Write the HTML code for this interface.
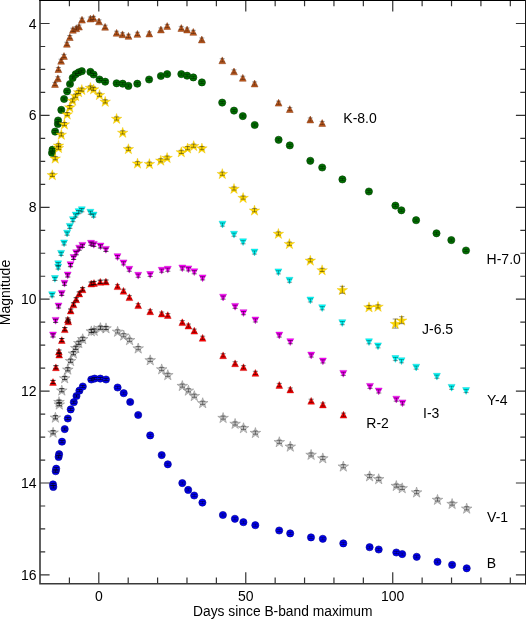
<!DOCTYPE html>
<html><head><meta charset="utf-8"><style>
html,body{margin:0;padding:0;background:#fff;}
body{width:526px;height:619px;overflow:hidden;}
svg{display:block;will-change:transform;}
text{font-family:"Liberation Sans",sans-serif;font-size:14px;fill:#000;}
</style></head><body>
<svg width="526" height="619" viewBox="0 0 526 619">
<rect width="526" height="619" fill="#fff"/>
<path fill="#c05a1e" stroke="#8a3c12" stroke-width="0.5" stroke-linejoin="miter" d="M55 80.6L58.4 87.4L51.6 87.4ZM57.9 74.9L61.3 81.7L54.5 81.7ZM58.4 65.7L61.8 72.5L55 72.5ZM61.1 57.4L64.5 64.2L57.7 64.2ZM64 52.6L67.4 59.4L60.6 59.4ZM66.9 40.4L70.3 47.2L63.5 47.2ZM69.8 33.7L73.2 40.5L66.4 40.5ZM72.9 26.4L76.3 33.2L69.5 33.2ZM76.2 24.9L79.6 31.7L72.8 31.7ZM79 23.2L82.4 30L75.6 30ZM82 16.3L85.4 23.1L78.6 23.1ZM90.4 15.2L93.8 22L87 22ZM93.5 14.6L96.9 21.4L90.1 21.4ZM99 18L102.4 24.8L95.6 24.8ZM105.1 23.4L108.5 30.2L101.7 30.2ZM116.6 29.4L120 36.2L113.2 36.2ZM122.5 30.9L125.9 37.7L119.1 37.7ZM128.5 32.5L131.9 39.3L125.1 39.3ZM137.4 30.5L140.8 37.3L134 37.3ZM149.3 30.1L152.7 36.9L145.9 36.9ZM160.9 26.1L164.3 32.9L157.5 32.9ZM167.2 22.6L170.6 29.4L163.8 29.4ZM181.3 24.6L184.7 31.4L177.9 31.4ZM187.1 26.1L190.5 32.9L183.7 32.9ZM193.3 28.5L196.7 35.3L189.9 35.3ZM201.8 36.1L205.2 42.9L198.4 42.9ZM222.3 56.9L225.7 63.7L218.9 63.7ZM234 68L237.4 74.8L230.6 74.8ZM242.8 74.4L246.2 81.2L239.4 81.2ZM254.6 80.1L258 86.9L251.2 86.9ZM278.6 99.3L282 106.1L275.2 106.1ZM289.8 105.7L293.2 112.5L286.4 112.5ZM310.3 116.1L313.7 122.9L306.9 122.9ZM322.2 119.6L325.6 126.4L318.8 126.4Z"/>
<path fill="none" stroke="#000" stroke-opacity="0.45" stroke-width="0.8" d="M55 82.4V85.6M52.4 82.4H57.6M52.4 85.6H57.6M57.9 76.7V79.9M55.3 76.7H60.5M55.3 79.9H60.5M58.4 67.5V70.7M55.8 67.5H61M55.8 70.7H61M61.1 59.2V62.4M58.5 59.2H63.7M58.5 62.4H63.7M64 54.4V57.6M61.4 54.4H66.6M61.4 57.6H66.6M66.9 42.2V45.4M64.3 42.2H69.5M64.3 45.4H69.5M69.8 35.5V38.7M67.2 35.5H72.4M67.2 38.7H72.4M72.9 28.2V31.4M70.3 28.2H75.5M70.3 31.4H75.5M76.2 26.7V29.9M73.6 26.7H78.8M73.6 29.9H78.8M79 25V28.2M76.4 25H81.6M76.4 28.2H81.6M82 18.1V21.3M79.4 18.1H84.6M79.4 21.3H84.6M90.4 17V20.2M87.8 17H93M87.8 20.2H93M93.5 16.4V19.6M90.9 16.4H96.1M90.9 19.6H96.1M99 19.8V23M96.4 19.8H101.6M96.4 23H101.6M105.1 25.2V28.4M102.5 25.2H107.7M102.5 28.4H107.7"/>
<path fill="none" stroke="#000" stroke-opacity="0.4" stroke-width="0.8" d="M116.6 31.2V34.4M114 31.2H119.2M114 34.4H119.2M122.5 32.7V35.9M119.9 32.7H125.1M119.9 35.9H125.1M128.5 34.3V37.5M125.9 34.3H131.1M125.9 37.5H131.1M137.4 32.3V35.5M134.8 32.3H140M134.8 35.5H140M149.3 31.9V35.1M146.7 31.9H151.9M146.7 35.1H151.9M160.9 27.9V31.1M158.3 27.9H163.5M158.3 31.1H163.5M167.2 24.4V27.6M164.6 24.4H169.8M164.6 27.6H169.8M181.3 26.4V29.6M178.7 26.4H183.9M178.7 29.6H183.9M187.1 27.9V31.1M184.5 27.9H189.7M184.5 31.1H189.7M193.3 30.3V33.5M190.7 30.3H195.9M190.7 33.5H195.9M201.8 37.9V41.1M199.2 37.9H204.4M199.2 41.1H204.4M222.3 58.7V61.9M219.7 58.7H224.9M219.7 61.9H224.9M234 69.8V73M231.4 69.8H236.6M231.4 73H236.6M242.8 76.2V79.4M240.2 76.2H245.4M240.2 79.4H245.4M254.6 81.9V85.1M252 81.9H257.2M252 85.1H257.2M278.6 101.1V104.3M276 101.1H281.2M276 104.3H281.2M289.8 107.5V110.7M287.2 107.5H292.4M287.2 110.7H292.4M310.3 117.9V121.1M307.7 117.9H312.9M307.7 121.1H312.9M322.2 121.4V124.6M319.6 121.4H324.8M319.6 124.6H324.8"/>
<g fill="#007200" stroke="#003c00" stroke-width="0.6"><circle cx="52" cy="152.9" r="3.6"/><circle cx="52.5" cy="149.7" r="3.6"/><circle cx="55.1" cy="131.6" r="3.6"/><circle cx="57.9" cy="123.9" r="3.6"/><circle cx="58.1" cy="120.5" r="3.6"/><circle cx="61.3" cy="109.9" r="3.6"/><circle cx="64.1" cy="99" r="3.6"/><circle cx="67.1" cy="91.3" r="3.6"/><circle cx="70" cy="84" r="3.6"/><circle cx="72.7" cy="77.9" r="3.6"/><circle cx="75.7" cy="74.2" r="3.6"/><circle cx="78.7" cy="72.3" r="3.6"/><circle cx="81.8" cy="71.2" r="3.6"/><circle cx="90.4" cy="71.9" r="3.6"/><circle cx="93.6" cy="74.5" r="3.6"/><circle cx="99.5" cy="79.5" r="3.6"/><circle cx="105.2" cy="81.7" r="3.6"/><circle cx="116.6" cy="83.3" r="3.6"/><circle cx="122.7" cy="83.7" r="3.6"/><circle cx="128.4" cy="85.9" r="3.6"/><circle cx="137.3" cy="83.7" r="3.6"/><circle cx="149.1" cy="79.5" r="3.6"/><circle cx="160.9" cy="76" r="3.6"/><circle cx="167.2" cy="74.1" r="3.6"/><circle cx="181.3" cy="74.1" r="3.6"/><circle cx="187.1" cy="75.7" r="3.6"/><circle cx="193.3" cy="77.4" r="3.6"/><circle cx="201.9" cy="82.4" r="3.6"/><circle cx="222.2" cy="102.6" r="3.6"/><circle cx="234" cy="110.6" r="3.6"/><circle cx="242.8" cy="116.1" r="3.6"/><circle cx="254.7" cy="125" r="3.6"/><circle cx="278.6" cy="139.8" r="3.6"/><circle cx="289.8" cy="145.4" r="3.6"/><circle cx="310.3" cy="160.8" r="3.6"/><circle cx="322.2" cy="167.5" r="3.6"/><circle cx="342.4" cy="179.4" r="3.6"/><circle cx="368.9" cy="191.5" r="3.6"/><circle cx="395.4" cy="205.6" r="3.6"/><circle cx="401.4" cy="210.3" r="3.6"/><circle cx="416.1" cy="220.2" r="3.6"/><circle cx="436.5" cy="233.3" r="3.6"/><circle cx="451.3" cy="240.1" r="3.6"/><circle cx="466" cy="250.5" r="3.6"/></g>
<path fill="none" stroke="#000" stroke-opacity="0.6" stroke-width="0.8" d="M52 151.8V154M49.4 151.8H54.6M49.4 154H54.6M52.5 148.6V150.8M49.9 148.6H55.1M49.9 150.8H55.1M55.1 130.5V132.7M52.5 130.5H57.7M52.5 132.7H57.7M57.9 122.8V125M55.3 122.8H60.5M55.3 125H60.5M58.1 119.4V121.6M55.5 119.4H60.7M55.5 121.6H60.7M61.3 108.8V111M58.7 108.8H63.9M58.7 111H63.9M64.1 97.9V100.1M61.5 97.9H66.7M61.5 100.1H66.7M67.1 90.2V92.4M64.5 90.2H69.7M64.5 92.4H69.7M70 82.9V85.1M67.4 82.9H72.6M67.4 85.1H72.6M72.7 76.8V79M70.1 76.8H75.3M70.1 79H75.3M75.7 73.1V75.3M73.1 73.1H78.3M73.1 75.3H78.3M78.7 71.2V73.4M76.1 71.2H81.3M76.1 73.4H81.3M81.8 70.1V72.3M79.2 70.1H84.4M79.2 72.3H84.4M90.4 70.8V73M87.8 70.8H93M87.8 73H93M93.6 73.4V75.6M91 73.4H96.2M91 75.6H96.2M99.5 78.4V80.6M96.9 78.4H102.1M96.9 80.6H102.1M105.2 80.6V82.8M102.6 80.6H107.8M102.6 82.8H107.8"/>
<path fill="none" stroke="#000" stroke-opacity="0.45" stroke-width="0.8" d="M116.6 82.2V84.4M114 82.2H119.2M114 84.4H119.2M122.7 82.6V84.8M120.1 82.6H125.3M120.1 84.8H125.3M128.4 84.8V87M125.8 84.8H131M125.8 87H131M137.3 82.6V84.8M134.7 82.6H139.9M134.7 84.8H139.9M149.1 78.4V80.6M146.5 78.4H151.7M146.5 80.6H151.7M160.9 74.9V77.1M158.3 74.9H163.5M158.3 77.1H163.5M167.2 73V75.2M164.6 73H169.8M164.6 75.2H169.8M181.3 73V75.2M178.7 73H183.9M178.7 75.2H183.9M187.1 74.6V76.8M184.5 74.6H189.7M184.5 76.8H189.7M193.3 76.3V78.5M190.7 76.3H195.9M190.7 78.5H195.9M201.9 81.3V83.5M199.3 81.3H204.5M199.3 83.5H204.5M222.2 101.5V103.7M219.6 101.5H224.8M219.6 103.7H224.8M234 109.5V111.7M231.4 109.5H236.6M231.4 111.7H236.6M242.8 115V117.2M240.2 115H245.4M240.2 117.2H245.4M254.7 123.9V126.1M252.1 123.9H257.3M252.1 126.1H257.3M278.6 138.7V140.9M276 138.7H281.2M276 140.9H281.2M289.8 144.3V146.5M287.2 144.3H292.4M287.2 146.5H292.4M310.3 159.7V161.9M307.7 159.7H312.9M307.7 161.9H312.9M322.2 166.4V168.6M319.6 166.4H324.8M319.6 168.6H324.8M342.4 178.3V180.5M339.8 178.3H345M339.8 180.5H345M368.9 190.4V192.6M366.3 190.4H371.5M366.3 192.6H371.5M395.4 204.5V206.7M392.8 204.5H398M392.8 206.7H398M401.4 209.2V211.4M398.8 209.2H404M398.8 211.4H404M416.1 219.1V221.3M413.5 219.1H418.7M413.5 221.3H418.7M436.5 232.2V234.4M433.9 232.2H439.1M433.9 234.4H439.1M451.3 239V241.2M448.7 239H453.9M448.7 241.2H453.9M466 249.4V251.6M463.4 249.4H468.6M463.4 251.6H468.6"/>
<path fill="#ffd800" stroke="#e6bc00" stroke-width="0.35" stroke-linejoin="miter" d="M52.3 169.7L53.56 173.56L57.63 173.57L54.34 175.96L55.59 179.83L52.3 177.45L49.01 179.83L50.26 175.96L46.97 173.57L51.04 173.56ZM55.2 153.1L56.46 156.96L60.53 156.97L57.24 159.36L58.49 163.23L55.2 160.85L51.91 163.23L53.16 159.36L49.87 156.97L53.94 156.96ZM58.5 140.2L59.76 144.06L63.83 144.07L60.54 146.46L61.79 150.33L58.5 147.95L55.21 150.33L56.46 146.46L53.17 144.07L57.24 144.06ZM58.5 142.6L59.76 146.46L63.83 146.47L60.54 148.86L61.79 152.73L58.5 150.35L55.21 152.73L56.46 148.86L53.17 146.47L57.24 146.46ZM61.3 129.3L62.56 133.16L66.63 133.17L63.34 135.56L64.59 139.43L61.3 137.05L58.01 139.43L59.26 135.56L55.97 133.17L60.04 133.16ZM64.4 119L65.66 122.86L69.73 122.87L66.44 125.26L67.69 129.13L64.4 126.75L61.11 129.13L62.36 125.26L59.07 122.87L63.14 122.86ZM67.2 109L68.46 112.86L72.53 112.87L69.24 115.26L70.49 119.13L67.2 116.75L63.91 119.13L65.16 115.26L61.87 112.87L65.94 112.86ZM69.8 102L71.06 105.86L75.13 105.87L71.84 108.26L73.09 112.13L69.8 109.75L66.51 112.13L67.76 108.26L64.47 105.87L68.54 105.86ZM72.7 95.3L73.96 99.16L78.03 99.17L74.74 101.56L75.99 105.43L72.7 103.05L69.41 105.43L70.66 101.56L67.37 99.17L71.44 99.16ZM75.6 90.6L76.86 94.46L80.93 94.47L77.64 96.86L78.89 100.73L75.6 98.35L72.31 100.73L73.56 96.86L70.27 94.47L74.34 94.46ZM78.6 86.8L79.86 90.66L83.93 90.67L80.64 93.06L81.89 96.93L78.6 94.55L75.31 96.93L76.56 93.06L73.27 90.67L77.34 90.66ZM81.8 84.5L83.06 88.36L87.13 88.37L83.84 90.76L85.09 94.63L81.8 92.25L78.51 94.63L79.76 90.76L76.47 88.37L80.54 88.36ZM90.4 82.4L91.66 86.26L95.73 86.27L92.44 88.66L93.69 92.53L90.4 90.15L87.11 92.53L88.36 88.66L85.07 86.27L89.14 86.26ZM93.6 83.9L94.86 87.76L98.93 87.77L95.64 90.16L96.89 94.03L93.6 91.65L90.31 94.03L91.56 90.16L88.27 87.77L92.34 87.76ZM99.5 89.6L100.76 93.46L104.83 93.47L101.54 95.86L102.79 99.73L99.5 97.35L96.21 99.73L97.46 95.86L94.17 93.47L98.24 93.46ZM105.2 96.3L106.46 100.16L110.53 100.17L107.24 102.56L108.49 106.43L105.2 104.05L101.91 106.43L103.16 102.56L99.87 100.17L103.94 100.16ZM116.6 113.4L117.86 117.26L121.93 117.27L118.64 119.66L119.89 123.53L116.6 121.15L113.31 123.53L114.56 119.66L111.27 117.27L115.34 117.26ZM122.7 127.3L123.96 131.16L128.03 131.17L124.74 133.56L125.99 137.43L122.7 135.05L119.41 137.43L120.66 133.56L117.37 131.17L121.44 131.16ZM128.4 143.7L129.66 147.56L133.73 147.57L130.44 149.96L131.69 153.83L128.4 151.45L125.11 153.83L126.36 149.96L123.07 147.57L127.14 147.56ZM137.5 158.1L138.76 161.96L142.83 161.97L139.54 164.36L140.79 168.23L137.5 165.85L134.21 168.23L135.46 164.36L132.17 161.97L136.24 161.96ZM149.4 158.6L150.66 162.46L154.73 162.47L151.44 164.86L152.69 168.73L149.4 166.35L146.11 168.73L147.36 164.86L144.07 162.47L148.14 162.46ZM160.8 155.2L162.06 159.06L166.13 159.07L162.84 161.46L164.09 165.33L160.8 162.95L157.51 165.33L158.76 161.46L155.47 159.07L159.54 159.06ZM167.1 152.5L168.36 156.36L172.43 156.37L169.14 158.76L170.39 162.63L167.1 160.25L163.81 162.63L165.06 158.76L161.77 156.37L165.84 156.36ZM181.3 146.8L182.56 150.66L186.63 150.67L183.34 153.06L184.59 156.93L181.3 154.55L178.01 156.93L179.26 153.06L175.97 150.67L180.04 150.66ZM187.6 143L188.86 146.86L192.93 146.87L189.64 149.26L190.89 153.13L187.6 150.75L184.31 153.13L185.56 149.26L182.27 146.87L186.34 146.86ZM193.7 140.6L194.96 144.46L199.03 144.47L195.74 146.86L196.99 150.73L193.7 148.35L190.41 150.73L191.66 146.86L188.37 144.47L192.44 144.46ZM201.9 143L203.16 146.86L207.23 146.87L203.94 149.26L205.19 153.13L201.9 150.75L198.61 153.13L199.86 149.26L196.57 146.87L200.64 146.86ZM222.3 168.6L223.56 172.46L227.63 172.47L224.34 174.86L225.59 178.73L222.3 176.35L219.01 178.73L220.26 174.86L216.97 172.47L221.04 172.46ZM234 183.4L235.26 187.26L239.33 187.27L236.04 189.66L237.29 193.53L234 191.15L230.71 193.53L231.96 189.66L228.67 187.27L232.74 187.26ZM243.1 192.5L244.36 196.36L248.43 196.37L245.14 198.76L246.39 202.63L243.1 200.25L239.81 202.63L241.06 198.76L237.77 196.37L241.84 196.36ZM254.5 205.1L255.76 208.96L259.83 208.97L256.54 211.36L257.79 215.23L254.5 212.85L251.21 215.23L252.46 211.36L249.17 208.97L253.24 208.96ZM278.4 228.4L279.66 232.26L283.73 232.27L280.44 234.66L281.69 238.53L278.4 236.15L275.11 238.53L276.36 234.66L273.07 232.27L277.14 232.26ZM289.4 238.6L290.66 242.46L294.73 242.47L291.44 244.86L292.69 248.73L289.4 246.35L286.11 248.73L287.36 244.86L284.07 242.47L288.14 242.46ZM310.3 255.2L311.56 259.06L315.63 259.07L312.34 261.46L313.59 265.33L310.3 262.95L307.01 265.33L308.26 261.46L304.97 259.07L309.04 259.06ZM322.1 264.8L323.36 268.66L327.43 268.67L324.14 271.06L325.39 274.93L322.1 272.55L318.81 274.93L320.06 271.06L316.77 268.67L320.84 268.66ZM342.3 284.7L343.56 288.56L347.63 288.57L344.34 290.96L345.59 294.83L342.3 292.45L339.01 294.83L340.26 290.96L336.97 288.57L341.04 288.56ZM369 301.9L370.26 305.76L374.33 305.77L371.04 308.16L372.29 312.03L369 309.65L365.71 312.03L366.96 308.16L363.67 305.77L367.74 305.76ZM378 301.3L379.26 305.16L383.33 305.17L380.04 307.56L381.29 311.43L378 309.05L374.71 311.43L375.96 307.56L372.67 305.17L376.74 305.16ZM395.3 318.5L396.56 322.36L400.63 322.37L397.34 324.76L398.59 328.63L395.3 326.25L392.01 328.63L393.26 324.76L389.97 322.37L394.04 322.36ZM401.7 315.1L402.96 318.96L407.03 318.97L403.74 321.36L404.99 325.23L401.7 322.85L398.41 325.23L399.66 321.36L396.37 318.97L400.44 318.96Z"/>
<path fill="none" stroke="#000" stroke-opacity="0.6" stroke-width="0.8" d="M52.3 173.2V176.4M49.7 173.2H54.9M49.7 176.4H54.9M55.2 156.6V159.8M52.6 156.6H57.8M52.6 159.8H57.8M58.5 143.7V146.9M55.9 143.7H61.1M55.9 146.9H61.1M58.5 146.1V149.3M55.9 146.1H61.1M55.9 149.3H61.1M61.3 132.8V136M58.7 132.8H63.9M58.7 136H63.9M64.4 122.5V125.7M61.8 122.5H67M61.8 125.7H67M67.2 112.5V115.7M64.6 112.5H69.8M64.6 115.7H69.8M69.8 105.5V108.7M67.2 105.5H72.4M67.2 108.7H72.4M72.7 98.8V102M70.1 98.8H75.3M70.1 102H75.3M75.6 94.1V97.3M73 94.1H78.2M73 97.3H78.2M78.6 90.3V93.5M76 90.3H81.2M76 93.5H81.2M81.8 88V91.2M79.2 88H84.4M79.2 91.2H84.4M90.4 85.9V89.1M87.8 85.9H93M87.8 89.1H93M93.6 87.4V90.6M91 87.4H96.2M91 90.6H96.2M99.5 93.1V96.3M96.9 93.1H102.1M96.9 96.3H102.1M105.2 99.8V103M102.6 99.8H107.8M102.6 103H107.8"/>
<path fill="none" stroke="#000" stroke-opacity="0.5" stroke-width="0.8" d="M116.6 116.9V120.1M114 116.9H119.2M114 120.1H119.2M122.7 130.8V134M120.1 130.8H125.3M120.1 134H125.3M128.4 147.2V150.4M125.8 147.2H131M125.8 150.4H131M137.5 161.6V164.8M134.9 161.6H140.1M134.9 164.8H140.1M149.4 162.1V165.3M146.8 162.1H152M146.8 165.3H152M160.8 158.7V161.9M158.2 158.7H163.4M158.2 161.9H163.4M167.1 156V159.2M164.5 156H169.7M164.5 159.2H169.7M181.3 150.3V153.5M178.7 150.3H183.9M178.7 153.5H183.9M187.6 146.5V149.7M185 146.5H190.2M185 149.7H190.2M193.7 144.1V147.3M191.1 144.1H196.3M191.1 147.3H196.3M201.9 146.5V149.7M199.3 146.5H204.5M199.3 149.7H204.5M222.3 172.1V175.3M219.7 172.1H224.9M219.7 175.3H224.9M234 186.9V190.1M231.4 186.9H236.6M231.4 190.1H236.6M243.1 196V199.2M240.5 196H245.7M240.5 199.2H245.7M254.5 208.6V211.8M251.9 208.6H257.1M251.9 211.8H257.1M278.4 231.9V235.1M275.8 231.9H281M275.8 235.1H281M289.4 242.1V245.3M286.8 242.1H292M286.8 245.3H292M310.3 258.7V261.9M307.7 258.7H312.9M307.7 261.9H312.9M322.1 268.3V271.5M319.5 268.3H324.7M319.5 271.5H324.7M342.3 286.3V293.3M339.7 286.3H344.9M339.7 293.3H344.9M369 305.4V308.6M366.4 305.4H371.6M366.4 308.6H371.6M378 304.8V308M375.4 304.8H380.6M375.4 308H380.6M395.3 319V328.2M392.7 319H397.9M392.7 328.2H397.9M401.7 316.7V323.7M399.1 316.7H404.3M399.1 323.7H404.3"/>
<path fill="#00ffff" stroke="#00c4c4" stroke-width="0.4" stroke-linejoin="miter" d="M48.6 291.8L55.6 291.8L52.1 298.6ZM51.4 275.5L58.4 275.5L54.9 282.3ZM54.7 260.8L61.7 260.8L58.2 267.6ZM54.7 264.1L61.7 264.1L58.2 270.9ZM57.6 250.4L64.6 250.4L61.1 257.2ZM60.6 240L67.6 240L64.1 246.8ZM63.6 230.2L70.6 230.2L67.1 237ZM66.3 223.4L73.3 223.4L69.8 230.2ZM69.4 216.7L76.4 216.7L72.9 223.5ZM72.2 212.1L79.2 212.1L75.7 218.9ZM75.1 208.7L82.1 208.7L78.6 215.5ZM78.3 206.8L85.3 206.8L81.8 213.6ZM86.9 209.3L93.9 209.3L90.4 216.1ZM90.1 212.1L97.1 212.1L93.6 218.9ZM219 221.2L226 221.2L222.5 228ZM230.5 231.3L237.5 231.3L234 238.1ZM239.6 238.8L246.6 238.8L243.1 245.6ZM251 249.1L258 249.1L254.5 255.9ZM274.9 268.9L281.9 268.9L278.4 275.7ZM286 277.3L293 277.3L289.5 284.1ZM306.9 297L313.9 297L310.4 303.8ZM318.7 304.8L325.7 304.8L322.2 311.6ZM338.8 319.7L345.8 319.7L342.3 326.5ZM365.5 338.8L372.5 338.8L369 345.6ZM374.5 342.9L381.5 342.9L378 349.7ZM391.9 355.6L398.9 355.6L395.4 362.4ZM398 357.8L405 357.8L401.5 364.6ZM412.7 364.2L419.7 364.2L416.2 371ZM433.4 373.3L440.4 373.3L436.9 380.1ZM448.1 384.4L455.1 384.4L451.6 391.2ZM462.6 387.6L469.6 387.6L466.1 394.4Z"/>
<path fill="none" stroke="#000" stroke-opacity="0.6" stroke-width="0.8" d="M52.1 293.6V296.8M49.5 293.6H54.7M49.5 296.8H54.7M54.9 277.3V280.5M52.3 277.3H57.5M52.3 280.5H57.5M58.2 262.6V265.8M55.6 262.6H60.8M55.6 265.8H60.8M58.2 265.9V269.1M55.6 265.9H60.8M55.6 269.1H60.8M61.1 252.2V255.4M58.5 252.2H63.7M58.5 255.4H63.7M64.1 241.8V245M61.5 241.8H66.7M61.5 245H66.7M67.1 232V235.2M64.5 232H69.7M64.5 235.2H69.7M69.8 225.2V228.4M67.2 225.2H72.4M67.2 228.4H72.4M72.9 218.5V221.7M70.3 218.5H75.5M70.3 221.7H75.5M75.7 213.9V217.1M73.1 213.9H78.3M73.1 217.1H78.3M78.6 210.5V213.7M76 210.5H81.2M76 213.7H81.2M81.8 208.6V211.8M79.2 208.6H84.4M79.2 211.8H84.4M90.4 211.1V214.3M87.8 211.1H93M87.8 214.3H93M93.6 213.9V217.1M91 213.9H96.2M91 217.1H96.2"/>
<path fill="none" stroke="#000" stroke-opacity="0.45" stroke-width="0.8" d="M222.5 223V226.2M219.9 223H225.1M219.9 226.2H225.1M234 233.1V236.3M231.4 233.1H236.6M231.4 236.3H236.6M243.1 240.6V243.8M240.5 240.6H245.7M240.5 243.8H245.7M254.5 250.9V254.1M251.9 250.9H257.1M251.9 254.1H257.1M278.4 270.7V273.9M275.8 270.7H281M275.8 273.9H281M289.5 279.1V282.3M286.9 279.1H292.1M286.9 282.3H292.1M310.4 298.8V302M307.8 298.8H313M307.8 302H313M322.2 306.6V309.8M319.6 306.6H324.8M319.6 309.8H324.8M342.3 321.5V324.7M339.7 321.5H344.9M339.7 324.7H344.9M369 340.6V343.8M366.4 340.6H371.6M366.4 343.8H371.6M378 344.7V347.9M375.4 344.7H380.6M375.4 347.9H380.6M395.4 357.4V360.6M392.8 357.4H398M392.8 360.6H398M401.5 359.6V362.8M398.9 359.6H404.1M398.9 362.8H404.1M416.2 366V369.2M413.6 366H418.8M413.6 369.2H418.8M436.9 375.1V378.3M434.3 375.1H439.5M434.3 378.3H439.5M451.6 386.2V389.4M449 386.2H454.2M449 389.4H454.2M466.1 389.4V392.6M463.5 389.4H468.7M463.5 392.6H468.7"/>
<path fill="#ff00ff" stroke="#c000c0" stroke-width="0.4" stroke-linejoin="miter" d="M49.5 332L56.5 332L53 338.8ZM52.1 317.4L59.1 317.4L55.6 324.2ZM55 303L62 303L58.5 309.8ZM58.2 290.4L65.2 290.4L61.7 297.2ZM61 280.3L68 280.3L64.5 287.1ZM64.2 272L71.2 272L67.7 278.8ZM67 261.7L74 261.7L70.5 268.5ZM70.1 254.5L77.1 254.5L73.6 261.3ZM72.7 249.8L79.7 249.8L76.2 256.6ZM75.7 245.2L82.7 245.2L79.2 252ZM78.9 242.4L85.9 242.4L82.4 249.2ZM87.5 240.3L94.5 240.3L91 247.1ZM90.3 241.4L97.3 241.4L93.8 248.2ZM97 243L104 243L100.5 249.8ZM102.4 246.4L109.4 246.4L105.9 253.2ZM114 253.7L121 253.7L117.5 260.5ZM120 259.9L127 259.9L123.5 266.7ZM125.8 266.3L132.8 266.3L129.3 273.1ZM134.7 272.3L141.7 272.3L138.2 279.1ZM146.7 271.5L153.7 271.5L150.2 278.3ZM158.2 267.3L165.2 267.3L161.7 274.1ZM164.3 266.3L171.3 266.3L167.8 273.1ZM178.8 265L185.8 265L182.3 271.8ZM184.9 265.9L191.9 265.9L188.4 272.7ZM190.8 268.8L197.8 268.8L194.3 275.6ZM199.1 274.9L206.1 274.9L202.6 281.7ZM219.6 294.2L226.6 294.2L223.1 301ZM231.6 303.4L238.6 303.4L235.1 310.2ZM240 309.7L247 309.7L243.5 316.5ZM251.9 317L258.9 317L255.4 323.8ZM275.8 332.1L282.8 332.1L279.3 338.9ZM286.8 338.7L293.8 338.7L290.3 345.5ZM307.7 352.1L314.7 352.1L311.2 358.9ZM319.4 358L326.4 358L322.9 364.8ZM339.8 370.4L346.8 370.4L343.3 377.2ZM366.5 383.4L373.5 383.4L370 390.2ZM375.2 388L382.2 388L378.7 394.8ZM392.8 396.2L399.8 396.2L396.3 403ZM399 399.9L406 399.9L402.5 406.7Z"/>
<path fill="none" stroke="#000" stroke-opacity="0.85" stroke-width="0.8" d="M53 333.8V337M50.4 333.8H55.6M50.4 337H55.6M55.6 319.2V322.4M53 319.2H58.2M53 322.4H58.2M58.5 304.8V308M55.9 304.8H61.1M55.9 308H61.1M61.7 292.2V295.4M59.1 292.2H64.3M59.1 295.4H64.3M64.5 282.1V285.3M61.9 282.1H67.1M61.9 285.3H67.1M67.7 273.8V277M65.1 273.8H70.3M65.1 277H70.3M70.5 263.5V266.7M67.9 263.5H73.1M67.9 266.7H73.1M73.6 256.3V259.5M71 256.3H76.2M71 259.5H76.2M76.2 251.6V254.8M73.6 251.6H78.8M73.6 254.8H78.8M79.2 247V250.2M76.6 247H81.8M76.6 250.2H81.8M82.4 244.2V247.4M79.8 244.2H85M79.8 247.4H85M91 242.1V245.3M88.4 242.1H93.6M88.4 245.3H93.6M93.8 243.2V246.4M91.2 243.2H96.4M91.2 246.4H96.4M100.5 244.8V248M97.9 244.8H103.1M97.9 248H103.1M105.9 248.2V251.4M103.3 248.2H108.5M103.3 251.4H108.5"/>
<path fill="none" stroke="#000" stroke-opacity="0.6" stroke-width="0.8" d="M117.5 255.5V258.7M114.9 255.5H120.1M114.9 258.7H120.1M123.5 261.7V264.9M120.9 261.7H126.1M120.9 264.9H126.1M129.3 268.1V271.3M126.7 268.1H131.9M126.7 271.3H131.9M138.2 274.1V277.3M135.6 274.1H140.8M135.6 277.3H140.8M150.2 273.3V276.5M147.6 273.3H152.8M147.6 276.5H152.8M161.7 269.1V272.3M159.1 269.1H164.3M159.1 272.3H164.3M167.8 268.1V271.3M165.2 268.1H170.4M165.2 271.3H170.4M182.3 266.8V270M179.7 266.8H184.9M179.7 270H184.9M188.4 267.7V270.9M185.8 267.7H191M185.8 270.9H191M194.3 270.6V273.8M191.7 270.6H196.9M191.7 273.8H196.9M202.6 276.7V279.9M200 276.7H205.2M200 279.9H205.2M223.1 296V299.2M220.5 296H225.7M220.5 299.2H225.7M235.1 305.2V308.4M232.5 305.2H237.7M232.5 308.4H237.7M243.5 311.5V314.7M240.9 311.5H246.1M240.9 314.7H246.1M255.4 318.8V322M252.8 318.8H258M252.8 322H258M279.3 333.9V337.1M276.7 333.9H281.9M276.7 337.1H281.9M290.3 340.5V343.7M287.7 340.5H292.9M287.7 343.7H292.9M311.2 353.9V357.1M308.6 353.9H313.8M308.6 357.1H313.8M322.9 359.8V363M320.3 359.8H325.5M320.3 363H325.5M343.3 372.2V375.4M340.7 372.2H345.9M340.7 375.4H345.9M370 385.2V388.4M367.4 385.2H372.6M367.4 388.4H372.6M378.7 389.8V393M376.1 389.8H381.3M376.1 393H381.3M396.3 398V401.2M393.7 398H398.9M393.7 401.2H398.9M402.5 401.7V404.9M399.9 401.7H405.1M399.9 404.9H405.1"/>
<path fill="#ff0000" stroke="#c00000" stroke-width="0.4" stroke-linejoin="miter" d="M53 378.6L56.4 385.4L49.6 385.4ZM55.9 363.9L59.3 370.7L52.5 370.7ZM58.9 348.2L62.3 355L55.5 355ZM59.2 351.2L62.6 358L55.8 358ZM61.8 336.7L65.2 343.5L58.4 343.5ZM64.8 325.8L68.2 332.6L61.4 332.6ZM67.8 316.2L71.2 323L64.4 323ZM68.3 318L71.7 324.8L64.9 324.8ZM70.7 307.2L74.1 314L67.3 314ZM73.5 301L76.9 307.8L70.1 307.8ZM76.2 295.9L79.6 302.7L72.8 302.7ZM79.3 290.1L82.7 296.9L75.9 296.9ZM82.6 285.9L86 292.7L79.2 292.7ZM91.2 280.2L94.6 287L87.8 287ZM94 279.6L97.4 286.4L90.6 286.4ZM100.3 278.4L103.7 285.2L96.9 285.2ZM105.9 278.2L109.3 285L102.5 285ZM117.5 282.8L120.9 289.6L114.1 289.6ZM123.5 287.4L126.9 294.2L120.1 294.2ZM129.4 293.8L132.8 300.6L126 300.6ZM138.2 301.8L141.6 308.6L134.8 308.6ZM150.2 307.9L153.6 314.7L146.8 314.7ZM161.7 310.2L165.1 317L158.3 317ZM167.8 311.7L171.2 318.5L164.4 318.5ZM182.3 318.8L185.7 325.6L178.9 325.6ZM188.4 322.2L191.8 329L185 329ZM194.3 327.3L197.7 334.1L190.9 334.1ZM202.6 334.4L206 341.2L199.2 341.2ZM223.1 351.9L226.5 358.7L219.7 358.7ZM235.1 359.9L238.5 366.7L231.7 366.7ZM243.5 363.8L246.9 370.6L240.1 370.6ZM255.4 369.5L258.8 376.3L252 376.3ZM279.3 381.6L282.7 388.4L275.9 388.4ZM290.3 386.1L293.7 392.9L286.9 392.9ZM311.2 397.4L314.6 404.2L307.8 404.2ZM322.9 401.1L326.3 407.9L319.5 407.9ZM343.5 411.3L346.9 418.1L340.1 418.1Z"/>
<path fill="none" stroke="#000" stroke-opacity="0.95" stroke-width="0.8" d="M53 380.4V383.6M50.4 380.4H55.6M50.4 383.6H55.6M55.9 365.7V368.9M53.3 365.7H58.5M53.3 368.9H58.5M58.9 350V353.2M56.3 350H61.5M56.3 353.2H61.5M59.2 353V356.2M56.6 353H61.8M56.6 356.2H61.8M61.8 338.5V341.7M59.2 338.5H64.4M59.2 341.7H64.4M64.8 327.6V330.8M62.2 327.6H67.4M62.2 330.8H67.4M67.8 318V321.2M65.2 318H70.4M65.2 321.2H70.4M68.3 319.8V323M65.7 319.8H70.9M65.7 323H70.9M70.7 309V312.2M68.1 309H73.3M68.1 312.2H73.3M73.5 302.8V306M70.9 302.8H76.1M70.9 306H76.1M76.2 297.7V300.9M73.6 297.7H78.8M73.6 300.9H78.8M79.3 291.9V295.1M76.7 291.9H81.9M76.7 295.1H81.9M82.6 287.7V290.9M80 287.7H85.2M80 290.9H85.2M91.2 282V285.2M88.6 282H93.8M88.6 285.2H93.8M94 281.4V284.6M91.4 281.4H96.6M91.4 284.6H96.6M100.3 280.2V283.4M97.7 280.2H102.9M97.7 283.4H102.9M105.9 280V283.2M103.3 280H108.5M103.3 283.2H108.5"/>
<path fill="none" stroke="#000" stroke-opacity="0.55" stroke-width="0.8" d="M117.5 284.6V287.8M114.9 284.6H120.1M114.9 287.8H120.1M123.5 289.2V292.4M120.9 289.2H126.1M120.9 292.4H126.1M129.4 295.6V298.8M126.8 295.6H132M126.8 298.8H132M138.2 303.6V306.8M135.6 303.6H140.8M135.6 306.8H140.8M150.2 309.7V312.9M147.6 309.7H152.8M147.6 312.9H152.8M161.7 312V315.2M159.1 312H164.3M159.1 315.2H164.3M167.8 313.5V316.7M165.2 313.5H170.4M165.2 316.7H170.4M182.3 320.6V323.8M179.7 320.6H184.9M179.7 323.8H184.9M188.4 324V327.2M185.8 324H191M185.8 327.2H191M194.3 329.1V332.3M191.7 329.1H196.9M191.7 332.3H196.9M202.6 336.2V339.4M200 336.2H205.2M200 339.4H205.2M223.1 353.7V356.9M220.5 353.7H225.7M220.5 356.9H225.7M235.1 361.7V364.9M232.5 361.7H237.7M232.5 364.9H237.7M243.5 365.6V368.8M240.9 365.6H246.1M240.9 368.8H246.1M255.4 371.3V374.5M252.8 371.3H258M252.8 374.5H258M279.3 383.4V386.6M276.7 383.4H281.9M276.7 386.6H281.9M290.3 387.9V391.1M287.7 387.9H292.9M287.7 391.1H292.9M311.2 399.2V402.4M308.6 399.2H313.8M308.6 402.4H313.8M322.9 402.9V406.1M320.3 402.9H325.5M320.3 406.1H325.5M343.5 413.1V416.3M340.9 413.1H346.1M340.9 416.3H346.1"/>
<path fill="#c4c4c4" stroke="#858585" stroke-width="0.5" stroke-linejoin="miter" d="M53.1 427.2L54.36 431.06L58.43 431.07L55.14 433.46L56.39 437.33L53.1 434.95L49.81 437.33L51.06 433.46L47.77 431.07L51.84 431.06ZM55.4 412.2L56.66 416.06L60.73 416.07L57.44 418.46L58.69 422.33L55.4 419.95L52.11 422.33L53.36 418.46L50.07 416.07L54.14 416.06ZM59 396.6L60.26 400.46L64.33 400.47L61.04 402.86L62.29 406.73L59 404.35L55.71 406.73L56.96 402.86L53.67 400.47L57.74 400.46ZM59.3 399.1L60.56 402.96L64.63 402.97L61.34 405.36L62.59 409.23L59.3 406.85L56.01 409.23L57.26 405.36L53.97 402.97L58.04 402.96ZM61.8 385.1L63.06 388.96L67.13 388.97L63.84 391.36L65.09 395.23L61.8 392.85L58.51 395.23L59.76 391.36L56.47 388.97L60.54 388.96ZM64.7 372.9L65.96 376.76L70.03 376.77L66.74 379.16L67.99 383.03L64.7 380.65L61.41 383.03L62.66 379.16L59.37 376.77L63.44 376.76ZM67.8 364.2L69.06 368.06L73.13 368.07L69.84 370.46L71.09 374.33L67.8 371.95L64.51 374.33L65.76 370.46L62.47 368.07L66.54 368.06ZM70.6 355.6L71.86 359.46L75.93 359.47L72.64 361.86L73.89 365.73L70.6 363.35L67.31 365.73L68.56 361.86L65.27 359.47L69.34 359.46ZM73.4 348.1L74.66 351.96L78.73 351.97L75.44 354.36L76.69 358.23L73.4 355.85L70.11 358.23L71.36 354.36L68.07 351.97L72.14 351.96ZM75.8 342.7L77.06 346.56L81.13 346.57L77.84 348.96L79.09 352.83L75.8 350.45L72.51 352.83L73.76 348.96L70.47 346.57L74.54 346.56ZM78.8 337.7L80.06 341.56L84.13 341.57L80.84 343.96L82.09 347.83L78.8 345.45L75.51 347.83L76.76 343.96L73.47 341.57L77.54 341.56ZM82.7 333.7L83.96 337.56L88.03 337.57L84.74 339.96L85.99 343.83L82.7 341.45L79.41 343.83L80.66 339.96L77.37 337.57L81.44 337.56ZM91.3 325.9L92.56 329.76L96.63 329.77L93.34 332.16L94.59 336.03L91.3 333.65L88.01 336.03L89.26 332.16L85.97 329.77L90.04 329.76ZM94.2 325.4L95.46 329.26L99.53 329.27L96.24 331.66L97.49 335.53L94.2 333.15L90.91 335.53L92.16 331.66L88.87 329.27L92.94 329.26ZM100.4 322.6L101.66 326.46L105.73 326.47L102.44 328.86L103.69 332.73L100.4 330.35L97.11 332.73L98.36 328.86L95.07 326.47L99.14 326.46ZM106 322.9L107.26 326.76L111.33 326.77L108.04 329.16L109.29 333.03L106 330.65L102.71 333.03L103.96 329.16L100.67 326.77L104.74 326.76ZM117.6 326.3L118.86 330.16L122.93 330.17L119.64 332.56L120.89 336.43L117.6 334.05L114.31 336.43L115.56 332.56L112.27 330.17L116.34 330.16ZM123.7 330.1L124.96 333.96L129.03 333.97L125.74 336.36L126.99 340.23L123.7 337.85L120.41 340.23L121.66 336.36L118.37 333.97L122.44 333.96ZM129.6 334.7L130.86 338.56L134.93 338.57L131.64 340.96L132.89 344.83L129.6 342.45L126.31 344.83L127.56 340.96L124.27 338.57L128.34 338.56ZM138.2 343L139.46 346.86L143.53 346.87L140.24 349.26L141.49 353.13L138.2 350.75L134.91 353.13L136.16 349.26L132.87 346.87L136.94 346.86ZM150.2 354.8L151.46 358.66L155.53 358.67L152.24 361.06L153.49 364.93L150.2 362.55L146.91 364.93L148.16 361.06L144.87 358.67L148.94 358.66ZM161.7 363.9L162.96 367.76L167.03 367.77L163.74 370.16L164.99 374.03L161.7 371.65L158.41 374.03L159.66 370.16L156.37 367.77L160.44 367.76ZM167.8 369.7L169.06 373.56L173.13 373.57L169.84 375.96L171.09 379.83L167.8 377.45L164.51 379.83L165.76 375.96L162.47 373.57L166.54 373.56ZM182.3 380.5L183.56 384.36L187.63 384.37L184.34 386.76L185.59 390.63L182.3 388.25L179.01 390.63L180.26 386.76L176.97 384.37L181.04 384.36ZM188.4 385.2L189.66 389.06L193.73 389.07L190.44 391.46L191.69 395.33L188.4 392.95L185.11 395.33L186.36 391.46L183.07 389.07L187.14 389.06ZM194.3 390.6L195.56 394.46L199.63 394.47L196.34 396.86L197.59 400.73L194.3 398.35L191.01 400.73L192.26 396.86L188.97 394.47L193.04 394.46ZM202.7 397.7L203.96 401.56L208.03 401.57L204.74 403.96L205.99 407.83L202.7 405.45L199.41 407.83L200.66 403.96L197.37 401.57L201.44 401.56ZM223.1 412.5L224.36 416.36L228.43 416.37L225.14 418.76L226.39 422.63L223.1 420.25L219.81 422.63L221.06 418.76L217.77 416.37L221.84 416.36ZM235.1 418.4L236.36 422.26L240.43 422.27L237.14 424.66L238.39 428.53L235.1 426.15L231.81 428.53L233.06 424.66L229.77 422.27L233.84 422.26ZM243.5 422.7L244.76 426.56L248.83 426.57L245.54 428.96L246.79 432.83L243.5 430.45L240.21 432.83L241.46 428.96L238.17 426.57L242.24 426.56ZM255.4 427.5L256.66 431.36L260.73 431.37L257.44 433.76L258.69 437.63L255.4 435.25L252.11 437.63L253.36 433.76L250.07 431.37L254.14 431.36ZM279.3 436.7L280.56 440.56L284.63 440.57L281.34 442.96L282.59 446.83L279.3 444.45L276.01 446.83L277.26 442.96L273.97 440.57L278.04 440.56ZM290.3 441.2L291.56 445.06L295.63 445.07L292.34 447.46L293.59 451.33L290.3 448.95L287.01 451.33L288.26 447.46L284.97 445.07L289.04 445.06ZM311.1 449.4L312.36 453.26L316.43 453.27L313.14 455.66L314.39 459.53L311.1 457.15L307.81 459.53L309.06 455.66L305.77 453.27L309.84 453.26ZM322.8 452.9L324.06 456.76L328.13 456.77L324.84 459.16L326.09 463.03L322.8 460.65L319.51 463.03L320.76 459.16L317.47 456.77L321.54 456.76ZM343.3 461.1L344.56 464.96L348.63 464.97L345.34 467.36L346.59 471.23L343.3 468.85L340.01 471.23L341.26 467.36L337.97 464.97L342.04 464.96ZM369.6 470.9L370.86 474.76L374.93 474.77L371.64 477.16L372.89 481.03L369.6 478.65L366.31 481.03L367.56 477.16L364.27 474.77L368.34 474.76ZM378.7 473.7L379.96 477.56L384.03 477.57L380.74 479.96L381.99 483.83L378.7 481.45L375.41 483.83L376.66 479.96L373.37 477.57L377.44 477.56ZM396.3 480.5L397.56 484.36L401.63 484.37L398.34 486.76L399.59 490.63L396.3 488.25L393.01 490.63L394.26 486.76L390.97 484.37L395.04 484.36ZM402.2 482.8L403.46 486.66L407.53 486.67L404.24 489.06L405.49 492.93L402.2 490.55L398.91 492.93L400.16 489.06L396.87 486.67L400.94 486.66ZM416.6 487L417.86 490.86L421.93 490.87L418.64 493.26L419.89 497.13L416.6 494.75L413.31 497.13L414.56 493.26L411.27 490.87L415.34 490.86ZM437.5 494.4L438.76 498.26L442.83 498.27L439.54 500.66L440.79 504.53L437.5 502.15L434.21 504.53L435.46 500.66L432.17 498.27L436.24 498.26ZM452.1 498.5L453.36 502.36L457.43 502.37L454.14 504.76L455.39 508.63L452.1 506.25L448.81 508.63L450.06 504.76L446.77 502.37L450.84 502.36ZM466.7 503.2L467.96 507.06L472.03 507.07L468.74 509.46L469.99 513.33L466.7 510.95L463.41 513.33L464.66 509.46L461.37 507.07L465.44 507.06Z"/>
<path fill="none" stroke="#000" stroke-opacity="0.9" stroke-width="0.8" d="M53.1 430.7V433.9M50.5 430.7H55.7M50.5 433.9H55.7M55.4 415.7V418.9M52.8 415.7H58M52.8 418.9H58M59 400.1V403.3M56.4 400.1H61.6M56.4 403.3H61.6M59.3 402.6V405.8M56.7 402.6H61.9M56.7 405.8H61.9M61.8 388.6V391.8M59.2 388.6H64.4M59.2 391.8H64.4M64.7 376.4V379.6M62.1 376.4H67.3M62.1 379.6H67.3M67.8 367.7V370.9M65.2 367.7H70.4M65.2 370.9H70.4M70.6 359.1V362.3M68 359.1H73.2M68 362.3H73.2M73.4 351.6V354.8M70.8 351.6H76M70.8 354.8H76M75.8 346.2V349.4M73.2 346.2H78.4M73.2 349.4H78.4M78.8 341.2V344.4M76.2 341.2H81.4M76.2 344.4H81.4M82.7 337.2V340.4M80.1 337.2H85.3M80.1 340.4H85.3M91.3 329.4V332.6M88.7 329.4H93.9M88.7 332.6H93.9M94.2 328.9V332.1M91.6 328.9H96.8M91.6 332.1H96.8M100.4 326.1V329.3M97.8 326.1H103M97.8 329.3H103M106 326.4V329.6M103.4 326.4H108.6M103.4 329.6H108.6"/>
<path fill="none" stroke="#000" stroke-opacity="0.55" stroke-width="0.8" d="M117.6 329.8V333M115 329.8H120.2M115 333H120.2M123.7 333.6V336.8M121.1 333.6H126.3M121.1 336.8H126.3M129.6 338.2V341.4M127 338.2H132.2M127 341.4H132.2M138.2 346.5V349.7M135.6 346.5H140.8M135.6 349.7H140.8M150.2 358.3V361.5M147.6 358.3H152.8M147.6 361.5H152.8M161.7 367.4V370.6M159.1 367.4H164.3M159.1 370.6H164.3M167.8 373.2V376.4M165.2 373.2H170.4M165.2 376.4H170.4M182.3 384V387.2M179.7 384H184.9M179.7 387.2H184.9M188.4 388.7V391.9M185.8 388.7H191M185.8 391.9H191M194.3 394.1V397.3M191.7 394.1H196.9M191.7 397.3H196.9M202.7 401.2V404.4M200.1 401.2H205.3M200.1 404.4H205.3M223.1 416V419.2M220.5 416H225.7M220.5 419.2H225.7M235.1 421.9V425.1M232.5 421.9H237.7M232.5 425.1H237.7M243.5 426.2V429.4M240.9 426.2H246.1M240.9 429.4H246.1M255.4 431V434.2M252.8 431H258M252.8 434.2H258M279.3 440.2V443.4M276.7 440.2H281.9M276.7 443.4H281.9M290.3 444.7V447.9M287.7 444.7H292.9M287.7 447.9H292.9M311.1 452.9V456.1M308.5 452.9H313.7M308.5 456.1H313.7M322.8 456.4V459.6M320.2 456.4H325.4M320.2 459.6H325.4M343.3 464.6V467.8M340.7 464.6H345.9M340.7 467.8H345.9M369.6 474.4V477.6M367 474.4H372.2M367 477.6H372.2M378.7 477.2V480.4M376.1 477.2H381.3M376.1 480.4H381.3M396.3 484V487.2M393.7 484H398.9M393.7 487.2H398.9M402.2 486.3V489.5M399.6 486.3H404.8M399.6 489.5H404.8M416.6 490.5V493.7M414 490.5H419.2M414 493.7H419.2M437.5 497.9V501.1M434.9 497.9H440.1M434.9 501.1H440.1M452.1 502V505.2M449.5 502H454.7M449.5 505.2H454.7M466.7 506.7V509.9M464.1 506.7H469.3M464.1 509.9H469.3"/>
<g fill="#0000f5" stroke="#00008a" stroke-width="0.6"><circle cx="53" cy="484.4" r="3.6"/><circle cx="53.3" cy="486.9" r="3.6"/><circle cx="55.7" cy="471.2" r="3.6"/><circle cx="56.2" cy="468.7" r="3.6"/><circle cx="58.6" cy="456.9" r="3.6"/><circle cx="59.1" cy="454.2" r="3.6"/><circle cx="62" cy="441.7" r="3.6"/><circle cx="64.7" cy="429.1" r="3.6"/><circle cx="67.8" cy="418.5" r="3.6"/><circle cx="70.7" cy="409.4" r="3.6"/><circle cx="73.8" cy="402.2" r="3.6"/><circle cx="76.5" cy="396" r="3.6"/><circle cx="79.4" cy="390.7" r="3.6"/><circle cx="82.8" cy="386.5" r="3.6"/><circle cx="91.3" cy="379.5" r="3.6"/><circle cx="94.6" cy="378.6" r="3.6"/><circle cx="100.3" cy="378.6" r="3.6"/><circle cx="106" cy="379.5" r="3.6"/><circle cx="117.6" cy="387.5" r="3.6"/><circle cx="123.7" cy="393.2" r="3.6"/><circle cx="130.2" cy="402" r="3.6"/><circle cx="138.2" cy="415" r="3.6"/><circle cx="150.2" cy="435.4" r="3.6"/><circle cx="161.7" cy="455.1" r="3.6"/><circle cx="167.8" cy="464.3" r="3.6"/><circle cx="182.3" cy="483.1" r="3.6"/><circle cx="188.2" cy="489.9" r="3.6"/><circle cx="194.2" cy="495.5" r="3.6"/><circle cx="202.4" cy="502.6" r="3.6"/><circle cx="222.9" cy="515" r="3.6"/><circle cx="234.9" cy="518.8" r="3.6"/><circle cx="243.4" cy="522.2" r="3.6"/><circle cx="255.3" cy="525.2" r="3.6"/><circle cx="279.2" cy="530.5" r="3.6"/><circle cx="290.2" cy="533.4" r="3.6"/><circle cx="311" cy="537.4" r="3.6"/><circle cx="322.8" cy="538.8" r="3.6"/><circle cx="343.3" cy="543.4" r="3.6"/><circle cx="369.6" cy="547.2" r="3.6"/><circle cx="378.7" cy="549.5" r="3.6"/><circle cx="396.3" cy="552.5" r="3.6"/><circle cx="402.2" cy="554.1" r="3.6"/><circle cx="416.7" cy="556.8" r="3.6"/><circle cx="437.5" cy="561.8" r="3.6"/><circle cx="452.1" cy="564.8" r="3.6"/><circle cx="466.7" cy="568.3" r="3.6"/></g>
<path fill="none" stroke="#000" stroke-opacity="0.8" stroke-width="0.8" d="M53 483.3V485.5M50.4 483.3H55.6M50.4 485.5H55.6M53.3 485.8V488M50.7 485.8H55.9M50.7 488H55.9M55.7 470.1V472.3M53.1 470.1H58.3M53.1 472.3H58.3M56.2 467.6V469.8M53.6 467.6H58.8M53.6 469.8H58.8M58.6 455.8V458M56 455.8H61.2M56 458H61.2M59.1 453.1V455.3M56.5 453.1H61.7M56.5 455.3H61.7M62 440.6V442.8M59.4 440.6H64.6M59.4 442.8H64.6M64.7 428V430.2M62.1 428H67.3M62.1 430.2H67.3M67.8 417.4V419.6M65.2 417.4H70.4M65.2 419.6H70.4M70.7 408.3V410.5M68.1 408.3H73.3M68.1 410.5H73.3M73.8 401.1V403.3M71.2 401.1H76.4M71.2 403.3H76.4M76.5 394.9V397.1M73.9 394.9H79.1M73.9 397.1H79.1M79.4 389.6V391.8M76.8 389.6H82M76.8 391.8H82M82.8 385.4V387.6M80.2 385.4H85.4M80.2 387.6H85.4M91.3 378.4V380.6M88.7 378.4H93.9M88.7 380.6H93.9M94.6 377.5V379.7M92 377.5H97.2M92 379.7H97.2M100.3 377.5V379.7M97.7 377.5H102.9M97.7 379.7H102.9M106 378.4V380.6M103.4 378.4H108.6M103.4 380.6H108.6"/>
<path fill="none" stroke="#000" stroke-opacity="0.5" stroke-width="0.8" d="M117.6 386.4V388.6M115 386.4H120.2M115 388.6H120.2M123.7 392.1V394.3M121.1 392.1H126.3M121.1 394.3H126.3M130.2 400.9V403.1M127.6 400.9H132.8M127.6 403.1H132.8M138.2 413.9V416.1M135.6 413.9H140.8M135.6 416.1H140.8M150.2 434.3V436.5M147.6 434.3H152.8M147.6 436.5H152.8M161.7 454V456.2M159.1 454H164.3M159.1 456.2H164.3M167.8 463.2V465.4M165.2 463.2H170.4M165.2 465.4H170.4M182.3 482V484.2M179.7 482H184.9M179.7 484.2H184.9M188.2 488.8V491M185.6 488.8H190.8M185.6 491H190.8M194.2 494.4V496.6M191.6 494.4H196.8M191.6 496.6H196.8M202.4 501.5V503.7M199.8 501.5H205M199.8 503.7H205M222.9 513.9V516.1M220.3 513.9H225.5M220.3 516.1H225.5M234.9 517.7V519.9M232.3 517.7H237.5M232.3 519.9H237.5M243.4 521.1V523.3M240.8 521.1H246M240.8 523.3H246M255.3 524.1V526.3M252.7 524.1H257.9M252.7 526.3H257.9M279.2 529.4V531.6M276.6 529.4H281.8M276.6 531.6H281.8M290.2 532.3V534.5M287.6 532.3H292.8M287.6 534.5H292.8M311 536.3V538.5M308.4 536.3H313.6M308.4 538.5H313.6M322.8 537.7V539.9M320.2 537.7H325.4M320.2 539.9H325.4M343.3 542.3V544.5M340.7 542.3H345.9M340.7 544.5H345.9M369.6 546.1V548.3M367 546.1H372.2M367 548.3H372.2M378.7 548.4V550.6M376.1 548.4H381.3M376.1 550.6H381.3M396.3 551.4V553.6M393.7 551.4H398.9M393.7 553.6H398.9M402.2 553V555.2M399.6 553H404.8M399.6 555.2H404.8M416.7 555.7V557.9M414.1 555.7H419.3M414.1 557.9H419.3M437.5 560.7V562.9M434.9 560.7H440.1M434.9 562.9H440.1M452.1 563.7V565.9M449.5 563.7H454.7M449.5 565.9H454.7M466.7 567.2V569.4M464.1 567.2H469.3M464.1 569.4H469.3"/>
<path fill="none" stroke="#333" stroke-width="1.2" d="M69.41 0V6.3M69.41 583.7V577.4M98.8 0V11.5M98.8 583.7V572.2M128.19 0V6.3M128.19 583.7V577.4M157.59 0V6.3M157.59 583.7V577.4M186.98 0V6.3M186.98 583.7V577.4M216.38 0V6.3M216.38 583.7V577.4M245.77 0V11.5M245.77 583.7V572.2M275.16 0V6.3M275.16 583.7V577.4M304.56 0V6.3M304.56 583.7V577.4M333.95 0V6.3M333.95 583.7V577.4M363.35 0V6.3M363.35 583.7V577.4M392.74 0V11.5M392.74 583.7V572.2M422.13 0V6.3M422.13 583.7V577.4M451.53 0V6.3M451.53 583.7V577.4M480.92 0V6.3M480.92 583.7V577.4M510.32 0V6.3M510.32 583.7V577.4M40 23.5H49.6M525.5 23.5H515.9M40 46.48H45.2M525.5 46.48H520.3M40 69.45H45.2M525.5 69.45H520.3M40 92.43H45.2M525.5 92.43H520.3M40 115.4H49.6M525.5 115.4H515.9M40 138.38H45.2M525.5 138.38H520.3M40 161.35H45.2M525.5 161.35H520.3M40 184.33H45.2M525.5 184.33H520.3M40 207.3H49.6M525.5 207.3H515.9M40 230.28H45.2M525.5 230.28H520.3M40 253.25H45.2M525.5 253.25H520.3M40 276.23H45.2M525.5 276.23H520.3M40 299.2H49.6M525.5 299.2H515.9M40 322.18H45.2M525.5 322.18H520.3M40 345.15H45.2M525.5 345.15H520.3M40 368.12H45.2M525.5 368.12H520.3M40 391.1H49.6M525.5 391.1H515.9M40 414.08H45.2M525.5 414.08H520.3M40 437.05H45.2M525.5 437.05H520.3M40 460.03H45.2M525.5 460.03H520.3M40 483H49.6M525.5 483H515.9M40 505.98H45.2M525.5 505.98H520.3M40 528.95H45.2M525.5 528.95H520.3M40 551.93H45.2M525.5 551.93H520.3M40 574.9H49.6M525.5 574.9H515.9"/>
<path fill="none" stroke="#3a3a3a" stroke-width="1.6" d="M40 0V583.8H525"/><rect x="39.2" y="0" width="486.8" height="1" fill="#000"/><rect x="525" y="0" width="1" height="584.6" fill="#1a1a1a"/>
<text x="36.6" y="28.5" text-anchor="end">4</text><text x="36.6" y="120.4" text-anchor="end">6</text><text x="36.6" y="212.3" text-anchor="end">8</text><text x="36.6" y="304.2" text-anchor="end">10</text><text x="36.6" y="396.1" text-anchor="end">12</text><text x="36.6" y="488" text-anchor="end">14</text><text x="36.6" y="579.9" text-anchor="end">16</text>
<text x="98.8" y="601.4" text-anchor="middle">0</text><text x="245.77" y="601.4" text-anchor="middle">50</text><text x="392.74" y="601.4" text-anchor="middle">100</text>
<text x="343.3" y="122.6">K-8.0</text><text x="486.6" y="264.3">H-7.0</text><text x="422" y="334.4">J-6.5</text><text x="487" y="404.6">Y-4</text><text x="423" y="417.8">I-3</text><text x="366.3" y="427.9">R-2</text><text x="487.1" y="522">V-1</text><text x="486.7" y="568.2">B</text>
<text x="282.8" y="616" text-anchor="middle" style="font-size:13.8px">Days since B-band maximum</text>
<text transform="translate(9.8 292.5) rotate(-90)" text-anchor="middle">Magnitude</text>
</svg>
</body></html>
